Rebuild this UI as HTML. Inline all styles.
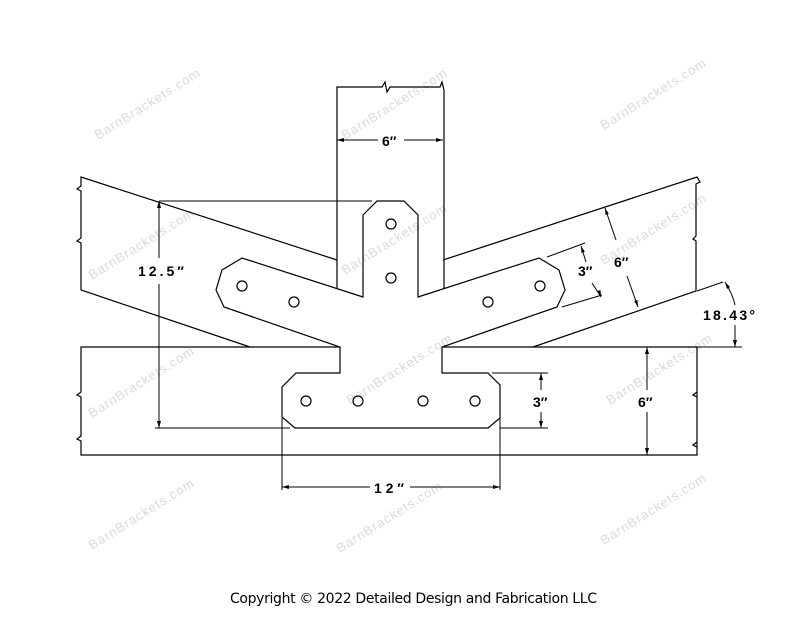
<!DOCTYPE html>
<html><head><meta charset="utf-8"><style>
html,body{margin:0;padding:0;background:#fff}
svg{display:block}
.l{stroke:#000;stroke-width:1.2;fill:none}
.d{stroke:#000;stroke-width:1;fill:none}
.t{font-family:"Liberation Sans",sans-serif;font-weight:bold;font-size:14px;fill:#000}
.w{font-family:"Liberation Sans",sans-serif;font-size:13px;fill:#dadada;letter-spacing:1px}
</style></head><body>
<svg width="800" height="618" viewBox="0 0 800 618" xmlns="http://www.w3.org/2000/svg">
<g class="w">
<text transform="translate(98,140) rotate(-32)">BarnBrackets.com</text>
<text transform="translate(345,140) rotate(-32)">BarnBrackets.com</text>
<text transform="translate(604,130) rotate(-32)">BarnBrackets.com</text>
<text transform="translate(92,280) rotate(-32)">BarnBrackets.com</text>
<text transform="translate(345,275) rotate(-32)">BarnBrackets.com</text>
<text transform="translate(604,265) rotate(-32)">BarnBrackets.com</text>
<text transform="translate(92,418) rotate(-32)">BarnBrackets.com</text>
<text transform="translate(350,405) rotate(-32)">BarnBrackets.com</text>
<text transform="translate(610,405) rotate(-32)">BarnBrackets.com</text>
<text transform="translate(92,550) rotate(-32)">BarnBrackets.com</text>
<text transform="translate(340,553) rotate(-32)">BarnBrackets.com</text>
<text transform="translate(604,545) rotate(-32)">BarnBrackets.com</text>
</g>
<path class="l" d="M337,288 V87 H382 l3,-5 l2,10 l3,-5 H440 l2,-5 l2,8 V288"/>
<path class="l" d="M337,260 L81,177 V186 l-4,3 l4,2 V238 l-4,3 l4,2 V290 L250,347"/>
<path class="l" d="M443,260 L697,177 l3,5 l-4,2 V236 l-3,3 l3,2 V291 L533,347"/>
<path class="d" d="M697,291 L723,282"/>
<path class="l" d="M340,347 H81 V392 l-4,3 l4,2 V436 l-4,3 l4,2 V455 H697 V442 l-4,3 l4,2 V392 l-4,3 l4,2 V347 H442"/>
<path class="d" d="M697,347 H742"/>
<path class="l" d="M363,297 V215 L377,201 H404 L418,215 V297 L539,258 L559,270 L565,290 L557,307 L442,347 V373 H488 L500,385 V418 L488,428 H295 L282,417 V387 L296,373 H340 V347 L224,307 L216,290 L222,270 L242,258 Z"/>
<g class="l">
<circle cx="391" cy="224" r="5"/><circle cx="391" cy="278" r="5"/>
<circle cx="242" cy="286" r="5"/><circle cx="294" cy="302" r="5"/>
<circle cx="540" cy="286" r="5"/><circle cx="488" cy="302" r="5"/>
<circle cx="306" cy="401" r="5"/><circle cx="358" cy="401" r="5"/>
<circle cx="423" cy="401" r="5"/><circle cx="475" cy="401" r="5"/>
</g>
<g class="d">
<path d="M337,140 H378 M404,140 H443"/>
<path d="M159,201 H372 M155,428 H290"/>
<path d="M159,201 V258 M159,284 V428"/>
<path d="M282,418 V490 M500,418 V490 M282,487 H370 M410,487 H500"/>
<path d="M492,373 H548 M500,428 H548 M541,373 V390 M541,412 V428"/>
<path d="M647,347 V390 M647,412 V455"/>
<path d="M605,208 L616,240 M627,276 L638,307"/>
<path d="M547,257 L585,243 M562,307 L602,295 M581,246 L586,262 M592,283 L601,297"/>
<path d="M725,282 Q733,295 735,305 M735,325 V347"/>
</g>
<g fill="#000">
<path d="M337,140 l7,-2 v4z M443,140 l-7,-2 v4z"/>
<path d="M159,201 l-2,7 h4z M159,428 l-2,-7 h4z"/>
<path d="M282,487 l7,-2 v4z M500,487 l-7,-2 v4z"/>
<path d="M541,373 l-2,7 h4z M541,428 l-2,-7 h4z"/>
<path d="M647,347 l-2,7 h4z M647,455 l-2,-7 h4z"/>
<path d="M605,208 l0.5,7 l3.3,-1.2z M638,307 l-0.5,-7 l-3.3,1.2z"/>
<path d="M581,246 l0.5,7 l3.3,-1.2z M601,297 l-0.5,-7 l-3.3,1.2z"/>
<path d="M725,282 l2,7 l3,-2z M735,347 l-2,-7 h4z"/>
</g>
<g class="t">
<text x="382" y="146">6″</text>
<text x="138" y="276" textLength="46">12.5″</text>
<text x="374" y="493" textLength="30">12″</text>
<text x="578" y="276">3″</text>
<text x="614" y="267">6″</text>
<text x="533" y="407">3″</text>
<text x="638" y="407">6″</text>
<text x="703" y="320" textLength="52">18.43°</text>
</g>
<text x="230" y="603" textLength="367" style="font-family:'DejaVu Sans','Liberation Sans',sans-serif;font-size:14px;fill:#000">Copyright © 2022 Detailed Design and Fabrication LLC</text>
</svg>
</body></html>
